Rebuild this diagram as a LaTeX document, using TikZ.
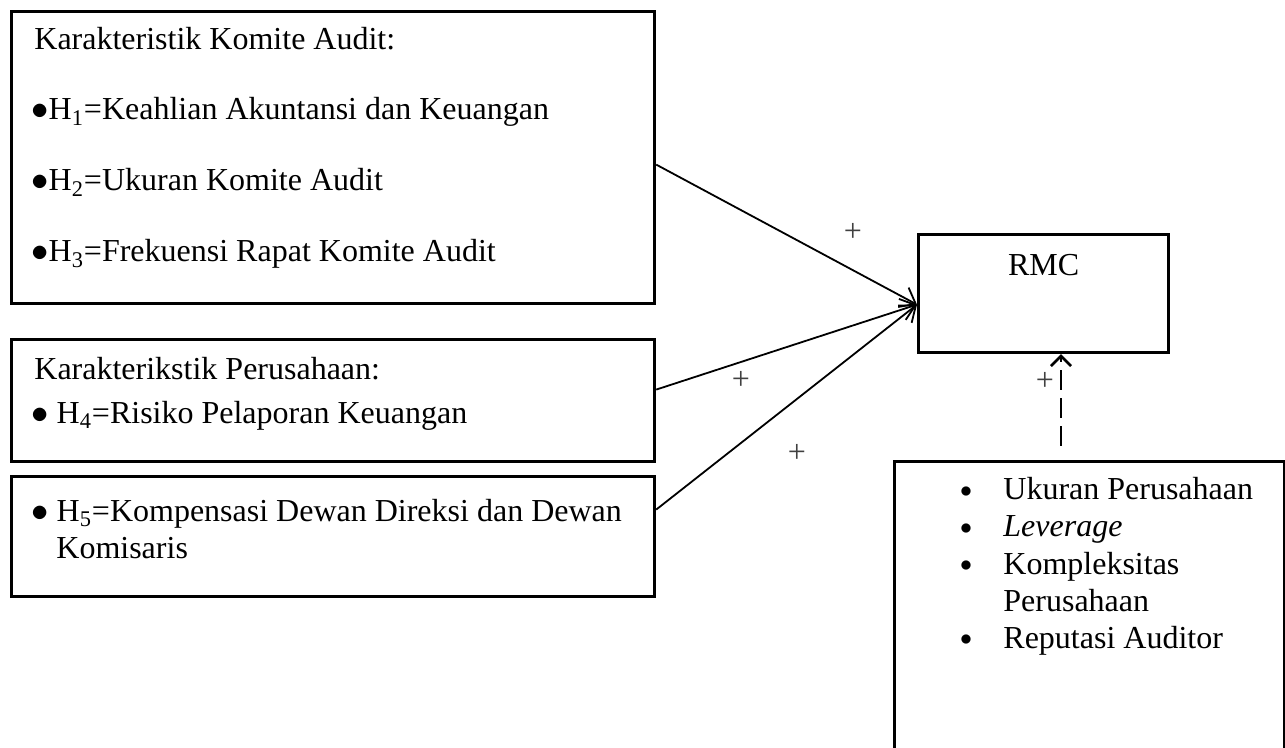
\documentclass[tikz,border=0pt]{standalone}
\usepackage{fontspec}
\setmainfont{Liberation Serif}
\usetikzlibrary{arrows.meta}

\begin{document}
\begin{tikzpicture}[x=0.5pt, y=-0.5pt,
    every node/.style={font=\fontsize{16}{19}\selectfont, inner sep=0pt},
    box/.style={draw, line width=1.6pt, anchor=north west},
    txt/.style={anchor=base west},
    dot/.style={anchor=base, yshift=1.5pt, font=\fontsize{13}{13}\selectfont},
    plus/.style={text=black!75},
    link/.style={line width=0.9pt, -{Straight Barb[length=7pt, width=11pt]}},
    dasharrow/.style={line width=1.3pt, dash pattern=on 10pt off 4pt, shorten <=7pt,
                      -{Straight Barb[length=5pt, width=10pt]}}]
  \useasboundingbox (0,0) rectangle (1285,748);
  % boxes
  \node[box, minimum width=321.5pt, minimum height=146pt] (kom) at (10,10) {};
  \node[box, minimum width=321.5pt, minimum height=61pt] (per) at (10,338) {};
  \node[box, minimum width=321.5pt, minimum height=60pt] (kmp) at (10,475) {};
  \node[box, minimum width=125pt, minimum height=59pt] (rmc) at (917,233) {};
  \node[box, minimum width=195pt, minimum height=150pt] (ctrl) at (893,460) {};
  % box texts
  \node[txt] (k0) at (34,50) {Karakteristik Komite Audit:};
  \node[txt] (k1) at (31,120) {$\bullet$H\textsubscript{1}=Keahlian Akuntansi dan Keuangan};
  \node[txt] (k2) at (31,191) {$\bullet$H\textsubscript{2}=Ukuran Komite Audit};
  \node[txt] (k3) at (31,262) {$\bullet$H\textsubscript{3}=Frekuensi Rapat Komite Audit};
  \node[txt] (p0) at (34,380) {Karakterikstik Perusahaan:};
  \node[txt] (p1) at (31,423) {$\bullet$ H\textsubscript{4}=Risiko Pelaporan Keuangan};
  \node[txt] (c1) at (31,521) {$\bullet$ H\textsubscript{5}=Kompensasi Dewan Direksi dan Dewan};
  \node[txt] (c2) at (56,558) {Komisaris};
  \node[anchor=base] (rmctxt) at (rmc.center |- 0,276) {RMC};
  % control variables
  \foreach \y/\t [count=\i] in {500/Ukuran Perusahaan, 537/\textit{Leverage},
                                574/Kompleksitas, 648/Reputasi Auditor} {
    \node[dot] (b\i) at (966,\y) {$\bullet$};
    \node[txt] (v\i) at (1003,\y) {\t};
  }
  \node[txt] (v5) at (1003,611) {Perusahaan};
  % arrows
  \coordinate (hit) at ([yshift=-5.5pt]rmc.west);
  \coordinate (dx) at (1061,0);
  \draw[link] ([yshift=-3.5pt]kom.east) -- (hit);
  \draw[link] ([yshift=5.5pt]per.east) -- (hit);
  \draw[link] ([yshift=13.5pt]kmp.east) -- (hit);
  \draw[dasharrow] (ctrl.north -| dx) -- (rmc.south -| dx);
  % signs
  \node[plus] (s1) at (853,232) {+};
  \node[plus] (s2) at (741,380) {+};
  \node[plus] (s3) at (797,453) {+};
  \node[plus] (s4) at (1045,381) {+};
\end{tikzpicture}
\end{document}
